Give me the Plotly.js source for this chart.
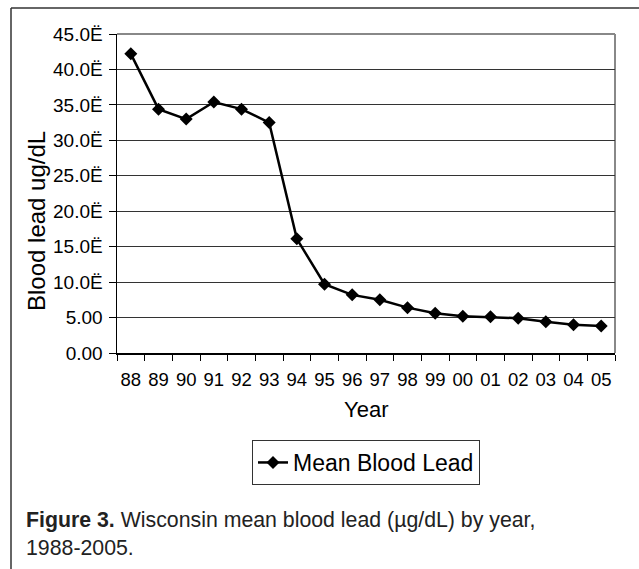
<!DOCTYPE html>
<html>
<head>
<meta charset="utf-8">
<script src="https://cdn.plot.ly/plotly-3.0.1.min.js"></script>
<style>html,body{margin:0;padding:0;background:#fff;}#chart{width:639px;height:569px;}</style>
</head>
<body>
<div id="chart"></div>
<script>
const years = ["88","89","90","91","92","93","94","95","96","97","98","99","00","01","02","03","04","05"];
const meanBloodLead = [42.2, 34.4, 33.0, 35.4, 34.4, 32.5, 16.1, 9.7, 8.2, 7.5, 6.4, 5.6, 5.2, 5.1, 4.9, 4.4, 4.0, 3.8];
const yTickVals = [0, 5, 10, 15, 20, 25, 30, 35, 40, 45];
const yTickText = ["0.00", "5.00", "10.0Ë", "15.0Ë", "20.0Ë", "25.0Ë", "30.0Ë", "35.0Ë", "40.0Ë", "45.0Ë"];
const seriesName = "Mean Blood Lead";

const W = 639, H = 569;
const L = 117, R = 615, T = 34, B = 353;
const px = x => (x - L) / (R - L);
const py = y => (B - y) / (B - T);
const FONT = "Liberation Sans, Arial, sans-serif";

const trace = {
  x: years,
  y: meanBloodLead,
  name: seriesName,
  type: "scatter",
  mode: "lines+markers",
  line: {color: "#000", width: 2.5},
  marker: {symbol: "diamond", size: 10, color: "#000"},
  showlegend: true
};

const layout = {
  width: W, height: H,
  margin: {l: L, r: W - R, t: T, b: H - B, pad: 0},
  paper_bgcolor: "#fff",
  plot_bgcolor: "#fff",
  font: {family: FONT, color: "#000"},
  showlegend: true,
  xaxis: {
    type: "category",
    range: [-0.5, 17.5],
    tickson: "boundaries",
    ticks: "outside",
    ticklen: 6,
    tickcolor: "#000",
    tickangle: 0,
    showline: true,
    linecolor: "#000",
    linewidth: 1.5,
    showgrid: false,
    zeroline: false,
    tickfont: {size: 18.5, family: FONT, color: "#000"},
    ticklabelstandoff: 9,
    fixedrange: true
  },
  yaxis: {
    range: [0, 45],
    tickvals: yTickVals,
    ticktext: yTickText,
    ticks: "outside",
    ticklen: 7,
    tickcolor: "#000",
    showline: true,
    linecolor: "#000",
    linewidth: 1.5,
    showgrid: true,
    gridcolor: "#333",
    gridwidth: 1,
    zeroline: false,
    tickfont: {size: 19, family: FONT, color: "#000"},
    ticklabelstandoff: 2,
    fixedrange: true
  },
  legend: {
    x: px(366), xanchor: "center",
    y: py(440), yanchor: "top",
    bordercolor: "#333", borderwidth: 1,
    bgcolor: "#fff",
    font: {size: 23, family: FONT, color: "#000"},
    itemwidth: 30
  },
  shapes: [
    {type: "line", xref: "paper", yref: "paper", x0: px(11), x1: px(11), y0: py(8), y1: py(575), line: {color: "#333", width: 1.5}},
    {type: "line", xref: "paper", yref: "paper", x0: px(11), x1: px(645), y0: py(8), y1: py(8), line: {color: "#333", width: 1.5}},
    {type: "line", xref: "paper", yref: "paper", x0: 0, x1: 1, y0: 1, y1: 1, line: {color: "#888", width: 2}, layer: "below"},
    {type: "line", xref: "paper", yref: "paper", x0: 1, x1: 1, y0: 0, y1: 1, line: {color: "#888", width: 2}, layer: "below"}
  ],
  annotations: [
    {text: "Blood lead ug/dL", xref: "paper", yref: "paper", x: px(36), y: py(221), xanchor: "center", yanchor: "middle", textangle: -90, showarrow: false, font: {size: 24, family: FONT, color: "#000"}},
    {text: "Year", xref: "paper", yref: "paper", x: px(366), y: py(409), xanchor: "center", yanchor: "middle", showarrow: false, font: {size: 22, family: FONT, color: "#000"}},
    {text: "<b>Figure 3.</b> Wisconsin mean blood lead (µg/dL) by year,", xref: "paper", yref: "paper", x: px(24), y: py(520), xanchor: "left", yanchor: "middle", showarrow: false, font: {size: 21.3, family: FONT, color: "#222"}},
    {text: "1988-2005.", xref: "paper", yref: "paper", x: px(24), y: py(548), xanchor: "left", yanchor: "middle", showarrow: false, font: {size: 21.3, family: FONT, color: "#222"}}
  ]
};

Plotly.newPlot("chart", [trace], layout, {staticPlot: true, displayModeBar: false});
</script>
</body>
</html>
